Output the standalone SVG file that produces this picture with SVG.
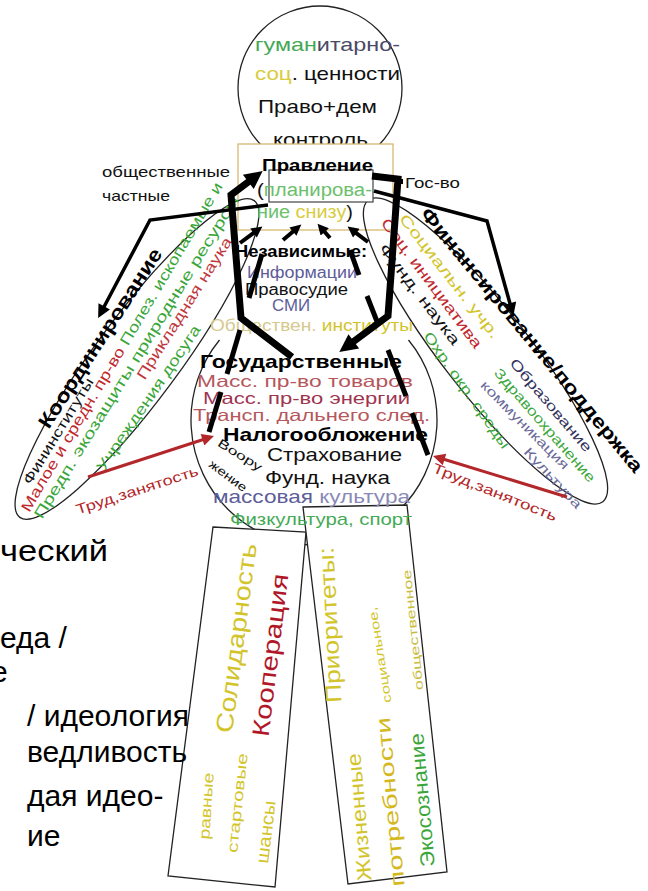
<svg xmlns="http://www.w3.org/2000/svg" width="648" height="891" viewBox="0 0 648 891">
<defs>
<style>
text{font-family:"Liberation Sans",Arial,sans-serif}
.b{font-weight:bold}
.shape{fill:none;stroke:#222;stroke-width:1.3}
.thick{fill:none;stroke:#000;stroke-linejoin:miter}
.rc{text-anchor:middle;dominant-baseline:central}
.g{fill:#3aa63a}.y{fill:#d2c42a}.r{fill:#c0282d}.sl{fill:#5d5d99}.k{fill:#111}
.big{font-size:30px;fill:#000}
</style>
<marker id="ahK" viewBox="0 0 10 10" refX="2" refY="5" markerWidth="20" markerHeight="18" markerUnits="userSpaceOnUse" orient="auto"><path d="M0,0 L10,5 L0,10 z" fill="#000"/></marker>
<marker id="ahS" viewBox="0 0 10 10" refX="2" refY="5" markerWidth="12" markerHeight="11" markerUnits="userSpaceOnUse" orient="auto"><path d="M0,0 L10,5 L0,10 z" fill="#000"/></marker>
<marker id="ahM" viewBox="0 0 10 10" refX="2" refY="5" markerWidth="16" markerHeight="13" markerUnits="userSpaceOnUse" orient="auto"><path d="M0,0 L10,5 L0,10 z" fill="#000"/></marker>
<marker id="ahR" viewBox="0 0 10 10" refX="2" refY="5" markerWidth="16" markerHeight="12" markerUnits="userSpaceOnUse" orient="auto"><path d="M0,0 L10,5 L0,10 z" fill="#b3262a"/></marker>
</defs>
<rect width="648" height="891" fill="#fff"/>

<g id="head">
<circle class="shape" cx="320" cy="88" r="82"/>
<text x="255" y="51" font-size="19" textLength="145" lengthAdjust="spacingAndGlyphs"><tspan fill="#44a855">гуман</tspan><tspan fill="#4a4a66">итарно-</tspan></text>
<text x="255" y="80" font-size="19" textLength="145" lengthAdjust="spacingAndGlyphs"><tspan fill="#d8cc40">соц</tspan><tspan fill="#111">. ценности</tspan></text>
<text x="258" y="113" font-size="19" textLength="119" lengthAdjust="spacingAndGlyphs" fill="#111">Право+дем</text>
<text x="273" y="146" font-size="19" textLength="95" lengthAdjust="spacingAndGlyphs" fill="#111">контроль</text>
</g>

<g id="neck-frame">
<rect x="238" y="144" width="155" height="86" fill="#fff" stroke="#d9b870" stroke-width="1.3"/>
</g>

<g id="body">
<path class="shape" d="M219.5,340 A123 125 0 1 0 408.5,340"/>
</g>

<g id="left-arm">
<ellipse class="shape" cx="137" cy="359" rx="197" ry="42" transform="rotate(-53.5 137 359)"/>
</g>
<g id="right-arm">
<ellipse class="shape" cx="485.5" cy="351" rx="191" ry="43" transform="rotate(52.1 485.5 351)"/>
</g>

<g id="left-leg">
<polygon points="213,527 306,532 275,887 168,876" fill="#fff" stroke="#222" stroke-width="1.3"/>
</g>
<g id="right-leg">
<polygon points="303,507 407,505 447,872 348,884" fill="#fff" stroke="#222" stroke-width="1.3"/>
</g>

<g id="pravlenie">
<rect x="269" y="170" width="104" height="32" fill="#fff" stroke="#444" stroke-width="1.2"/>
<text class="b" x="262" y="171" font-size="17" textLength="111" lengthAdjust="spacingAndGlyphs" fill="#000">Правление</text>
<text x="257" y="196" font-size="18" textLength="115" lengthAdjust="spacingAndGlyphs"><tspan fill="#111">(</tspan><tspan fill="#6cbf6c">планирова-</tspan></text>
<text x="257" y="218" font-size="18" textLength="96" lengthAdjust="spacingAndGlyphs"><tspan fill="#6cbf6c">ние </tspan><tspan fill="#d8cc40">снизу</tspan><tspan fill="#111">)</tspan></text>
</g>

<g id="labels-top">
<text x="102" y="177" font-size="14.5" textLength="128" lengthAdjust="spacingAndGlyphs" fill="#111">общественные</text>
<text x="102" y="201" font-size="14.5" textLength="68" lengthAdjust="spacingAndGlyphs" fill="#111">частные</text>
<rect x="399" y="179" width="4" height="5" fill="#000"/>
<text x="405" y="188" font-size="15" textLength="55" lengthAdjust="spacingAndGlyphs" fill="#111">Гос-во</text>
</g>

<g id="independent">
<text class="b" x="235" y="257" font-size="16" textLength="132" lengthAdjust="spacingAndGlyphs" fill="#000">Независимые:</text>
<text class="sl" x="247" y="278" font-size="16" textLength="110" lengthAdjust="spacingAndGlyphs">Информации</text>
<text x="245" y="295" font-size="16" textLength="103" lengthAdjust="spacingAndGlyphs" fill="#111">Правосудие</text>
<text class="sl" x="272" y="311" font-size="16" textLength="38" lengthAdjust="spacingAndGlyphs">СМИ</text>
<text x="210" y="331" font-size="16" textLength="203" lengthAdjust="spacingAndGlyphs"><tspan fill="#d6c98e">Обществен.</tspan><tspan fill="#d2c42a"> институты</tspan></text>
</g>

<g id="state">
<text class="b" x="200" y="368" font-size="19" textLength="202" lengthAdjust="spacingAndGlyphs" fill="#000">Государственные</text>
<text x="197" y="387" font-size="16.5" textLength="216" lengthAdjust="spacingAndGlyphs" fill="#b5575c">Масс. пр-во товаров</text>
<text x="203" y="404" font-size="16.5" textLength="207" lengthAdjust="spacingAndGlyphs" fill="#9e3550">Масс. пр-во энергии</text>
<text x="193" y="421" font-size="16.5" textLength="237" lengthAdjust="spacingAndGlyphs" fill="#b5575c">Трансп. дальнего след.</text>
<text class="b" x="223" y="441" font-size="19" textLength="205" lengthAdjust="spacingAndGlyphs" fill="#000">Налогообложение</text>
<text x="267" y="461" font-size="19" textLength="135" lengthAdjust="spacingAndGlyphs" fill="#111">Страхование</text>
<text x="265" y="484" font-size="19" textLength="125" lengthAdjust="spacingAndGlyphs" fill="#111">Фунд. наука</text>
<text class="rc" transform="translate(240 455) rotate(32)" font-size="12" textLength="50" lengthAdjust="spacingAndGlyphs" fill="#111">Воору</text>
<text class="rc" transform="translate(228 476) rotate(37)" font-size="12" textLength="44" lengthAdjust="spacingAndGlyphs" fill="#111">жение</text>
<text x="213" y="503" font-size="19" textLength="197" lengthAdjust="spacingAndGlyphs"><tspan fill="#5d5d99">массовая</tspan><tspan fill="#8a8ab8"> культура</tspan></text>
<text x="230" y="525" font-size="17" textLength="182" lengthAdjust="spacingAndGlyphs" fill="#44aa55">Физкультура, спорт</text>
</g>

<g id="left-arm-text">
<text class="rc b" transform="translate(100 338) rotate(-57)" font-size="20" textLength="210" lengthAdjust="spacingAndGlyphs" fill="#000">Координирование</text>
<text class="rc" transform="translate(58 431) rotate(-58.5)" font-size="14" textLength="122" lengthAdjust="spacingAndGlyphs" fill="#111">Фининституты</text>
<text class="rc" transform="translate(121 346.5) rotate(-59.3)" font-size="15" textLength="380" lengthAdjust="spacingAndGlyphs"><tspan fill="#c0282d">Малое и средн. пр-во </tspan><tspan fill="#3aa63a">Полез. ископаемые и</tspan></text>
<text class="rc g" transform="translate(136 357) rotate(-58.3)" font-size="15" textLength="376" lengthAdjust="spacingAndGlyphs">Предп. экозащиты природные ресурсы</text>
<text class="rc" transform="translate(184 308) rotate(-57.8)" font-size="15" textLength="165" lengthAdjust="spacingAndGlyphs" fill="#c0383d">Прикладная наука</text>
<text class="rc g" transform="translate(148 398) rotate(-55.8)" font-size="15" textLength="173" lengthAdjust="spacingAndGlyphs">Учреждения досуга</text>
<text class="rc" transform="translate(137 490) rotate(-18)" font-size="14" textLength="128" lengthAdjust="spacingAndGlyphs" fill="#b3262a">Труд,занятость</text>
</g>

<g id="right-arm-text">
<text class="rc b" transform="translate(532 340) rotate(50.4)" font-size="19" textLength="337" lengthAdjust="spacingAndGlyphs" fill="#000">Финансирование/поддержка</text>
<text class="rc y" transform="translate(450 276) rotate(52)" font-size="15" textLength="153" lengthAdjust="spacingAndGlyphs">Социальн. учр.</text>
<text class="rc" transform="translate(432 283) rotate(53.2)" font-size="15" textLength="158" lengthAdjust="spacingAndGlyphs" fill="#c0282d">Соц. инициатива</text>
<text class="rc" transform="translate(420 294) rotate(52.6)" font-size="15" textLength="123" lengthAdjust="spacingAndGlyphs" fill="#111">Фунд. наука</text>
<text class="rc g" transform="translate(467 390) rotate(55)" font-size="14" textLength="139" lengthAdjust="spacingAndGlyphs">Охр. окр. среды</text>
<text class="rc" transform="translate(551 405) rotate(49.5)" font-size="14" textLength="118" lengthAdjust="spacingAndGlyphs" fill="#33335e">Образование</text>
<text class="rc g" transform="translate(545 425) rotate(48.9)" font-size="14" textLength="146" lengthAdjust="spacingAndGlyphs">Здравоохранение</text>
<text class="rc" transform="translate(525 425) rotate(45)" font-size="13" textLength="119" lengthAdjust="spacingAndGlyphs" fill="#6a6a9a">коммуникация</text>
<text class="rc" transform="translate(553 478) rotate(47)" font-size="13" textLength="78" lengthAdjust="spacingAndGlyphs" fill="#6a6a9a">Культура</text>
<text class="rc" transform="translate(495 492) rotate(22)" font-size="14" textLength="133" lengthAdjust="spacingAndGlyphs" fill="#b3262a">Труд,занятость</text>
</g>

<g id="left-leg-text">
<text class="rc y" transform="translate(236 638) rotate(-82.5)" font-size="24" textLength="191" lengthAdjust="spacingAndGlyphs">Солидарность</text>
<text class="rc" transform="translate(270 655) rotate(-83)" font-size="24" textLength="164" lengthAdjust="spacingAndGlyphs" fill="#b0182a">Кооперация</text>
<text class="rc y" transform="translate(206 806) rotate(-86)" font-size="15" textLength="67" lengthAdjust="spacingAndGlyphs">равные</text>
<text class="rc y" transform="translate(237 803) rotate(-84)" font-size="15" textLength="100" lengthAdjust="spacingAndGlyphs">стартовые</text>
<text class="rc y" transform="translate(266 832) rotate(-83)" font-size="18" textLength="63" lengthAdjust="spacingAndGlyphs">шансы</text>
</g>

<g id="right-leg-text">
<text class="rc y" transform="translate(330 625) rotate(-93)" font-size="22" textLength="156" lengthAdjust="spacingAndGlyphs">Приоритеты:</text>
<text class="rc y" transform="translate(380 655) rotate(-99)" font-size="12" textLength="97" lengthAdjust="spacingAndGlyphs">социальное,</text>
<text class="rc" transform="translate(413 630) rotate(-96)" font-size="12" textLength="121" lengthAdjust="spacingAndGlyphs" fill="#c8bc40">общественное</text>
<text class="rc y" transform="translate(359 817) rotate(-95)" font-size="20" textLength="128" lengthAdjust="spacingAndGlyphs">Жизненные</text>
<text class="rc" transform="translate(390 802) rotate(-95)" font-size="20" textLength="170" lengthAdjust="spacingAndGlyphs" fill="#d4b820">потребности</text>
<text class="rc g" transform="translate(422 800) rotate(-95)" font-size="20" textLength="134" lengthAdjust="spacingAndGlyphs">Экосознание</text>
</g>

<g id="left-text">
<text class="big" x="0" y="561" textLength="108" lengthAdjust="spacingAndGlyphs">ческий</text>
<text class="big" x="0" y="648">еда /</text>
<text class="big" x="-9" y="682">е</text>
<text class="big" x="27" y="726">/ идеология</text>
<text class="big" x="27" y="762">ведливость</text>
<text class="big" x="27" y="806">дая идео-</text>
<text class="big" x="27" y="846">ие</text>
</g>

<g id="connectors">
<path class="thick" stroke-width="7" d="M292,357 L241,318 L231,195 L251.2,179.7" marker-end="url(#ahK)"/>
<path class="thick" stroke-width="7" d="M372,176 L398,179 L388,316 L350.9,343.5" marker-end="url(#ahK)"/>
<g class="thick" stroke-width="5">
<path d="M262,254 L249,298"/>
<path d="M240,330 L227,374"/>
<path d="M221,392 L209,432"/>
<path d="M350,250 L359,275"/>
<path d="M367,296 L378,324"/>
<path d="M388,350 L406,396"/>
<path d="M412,413 L428,455"/>
</g>
<g class="thick" stroke-width="4">
<path d="M240,243 L255.3,231.7" marker-end="url(#ahS)"/>
<path d="M283,240 L294.6,230.2" marker-end="url(#ahS)"/>
<path d="M330,238 L323.3,230.3" marker-end="url(#ahS)"/>
<path d="M368,242 L354.6,231.8" marker-end="url(#ahS)"/>
</g>
<path class="thick" stroke-width="3.5" d="M268,205 L150,220 L103,308.7" marker-end="url(#ahM)"/>
<path class="thick" stroke-width="3.5" d="M374,191 L487,221 L510.6,305.7" marker-end="url(#ahM)"/>
<path fill="none" stroke="#b3262a" stroke-width="3" d="M88,477 L204.8,439" marker-end="url(#ahR)"/>
<path fill="none" stroke="#b3262a" stroke-width="3" d="M567,497 L442.2,458.7" marker-end="url(#ahR)"/>
</g>
</svg>
